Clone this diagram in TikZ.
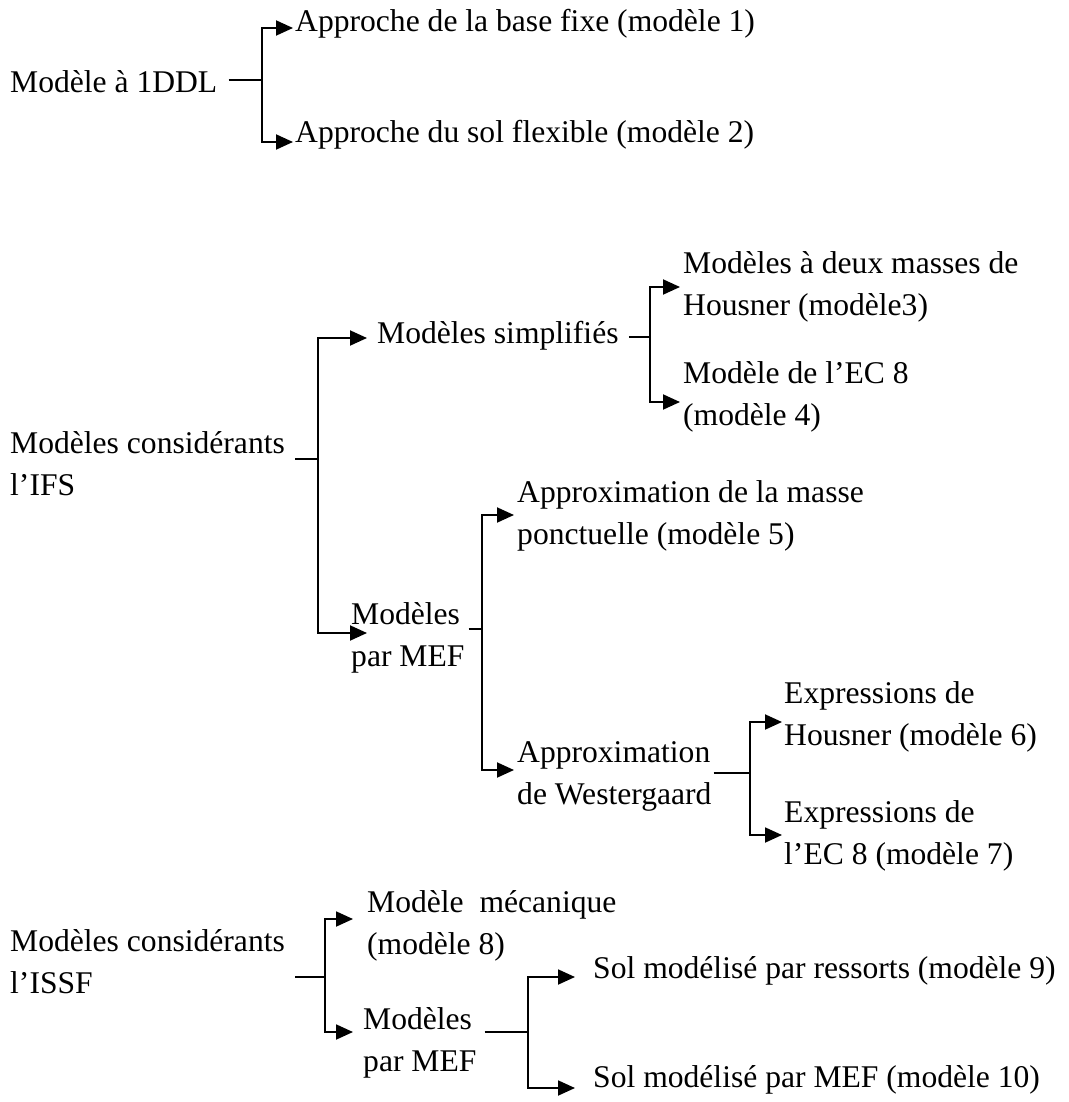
\documentclass[tikz,border=0pt]{standalone}
\usepackage{fontspec}
\setmainfont{Liberation Serif}
\usepackage{tikz}
\usetikzlibrary{arrows.meta, positioning, calc}
\newcommand{\txtsize}{\fontsize{31.6}{42}\selectfont}

\begin{document}
\begin{tikzpicture}[x=1pt, y=-1pt,
  lbl/.style={anchor=base west, inner sep=0pt, align=left, font=\txtsize},
  ln/.style={line width=1.9pt},
  ar/.style={ln, -{Triangle[length=17pt,width=15pt]}}
]
  \useasboundingbox (0,0) rectangle (1068,1102);

  % modele a 1DDL
  \node[lbl] (ddl)  at (10,93)   {Modèle à 1DDL};
  \node[lbl] (app1) at (295,32)  {Approche de la base fixe (modèle 1)};
  \node[lbl] (app2) at (295,143) {Approche du sol flexible (modèle 2)};
  \coordinate (f1) at (262,80);
  \draw[ln] (ddl.east |- f1) ++(11,0) -- (f1);
  \draw[ar] (f1) |- ([shift={(-2,-4)}]app1.base west);
  \draw[ar] (f1) |- ([shift={(-2,-1)}]app2.base west);

  % IFS (base = last line)
  \node[lbl] (ifs)  at (10,495)  {Modèles considérants\\l’IFS};
  \node[lbl] (simp) at (377,343) {Modèles simplifiés};
  \node[lbl] (hous) at (683,315) {Modèles à deux masses de\\Housner (modèle3)};
  \node[lbl] (ec)   at (683,425) {Modèle de l’EC 8\\(modèle 4)};
  \node[lbl] (mefa) at (351,666) {Modèles\\par MEF};
  \node[lbl] (ponc) at (517,544) {Approximation de la masse\\ponctuelle (modèle 5)};
  \node[lbl] (west) at (517,804) {Approximation\\de Westergaard};
  \node[lbl] (exph) at (784,745) {Expressions de\\Housner (modèle 6)};
  \node[lbl] (expe) at (784,864) {Expressions de\\l’EC 8 (modèle 7)};

  \coordinate (f2) at (318,459);
  \draw[ln] (ifs.east |- f2) ++(10,0) -- (f2);
  \draw[ar] (f2) |- ([shift={(-10,-5)}]simp.base west);
  \draw[ar] (f2) |- ([shift={(16,-33)}]mefa.base west);

  \coordinate (f3) at (650,337);
  \draw[ln] (simp.east |- f3) ++(10,0) -- (f3);
  \draw[ar] (f3) |- ([shift={(-3,-28)}]hous.base west);
  \draw[ar] (f3) |- ([shift={(-3,-23)}]ec.base west);

  \coordinate (f4) at (482,629);
  \draw[ln] (mefa.east |- f4) ++(4,0) -- (f4);
  \draw[ar] (f4) |- ([shift={(-3,-29)}]ponc.base west);
  \draw[ar] (f4) |- ([shift={(-3,-34)}]west.base west);

  \coordinate (f5) at (750,773);
  \draw[ln] (west.east |- f5) ++(2,0) -- (f5);
  \draw[ar] (f5) |- ([shift={(-2,-23)}]exph.base west);
  \draw[ar] (f5) |- ([shift={(-2,-29)}]expe.base west);

  % ISSF
  \node[lbl] (issf) at (10,993)   {Modèles considérants\\l’ISSF};
  \node[lbl] (meca) at (367,954)  {Modèle~~mécanique\\(modèle 8)};
  \node[lbl] (mefb) at (363,1071) {Modèles\\par MEF};
  \node[lbl] (ress) at (593,978)  {Sol modélisé par ressorts (modèle 9)};
  \node[lbl] (solm) at (593,1087) {Sol modélisé par MEF (modèle 10)};

  \coordinate (f6) at (325,977);
  \draw[ln] (issf.east |- f6) ++(10,0) -- (f6);
  \draw[ar] (f6) |- ([shift={(-14,-35)}]meca.base west);
  \draw[ar] (f6) |- ([shift={(-10,-39)}]mefb.base west);

  \coordinate (f7) at (528,1032);
  \draw[ln] (mefb.east |- f7) ++(8,0) -- (f7);
  \draw[ar] (f7) |- ([shift={(-18,-1)}]ress.base west);
  \draw[ar] (f7) |- ([shift={(-18,1)}]solm.base west);
\end{tikzpicture}
\end{document}
